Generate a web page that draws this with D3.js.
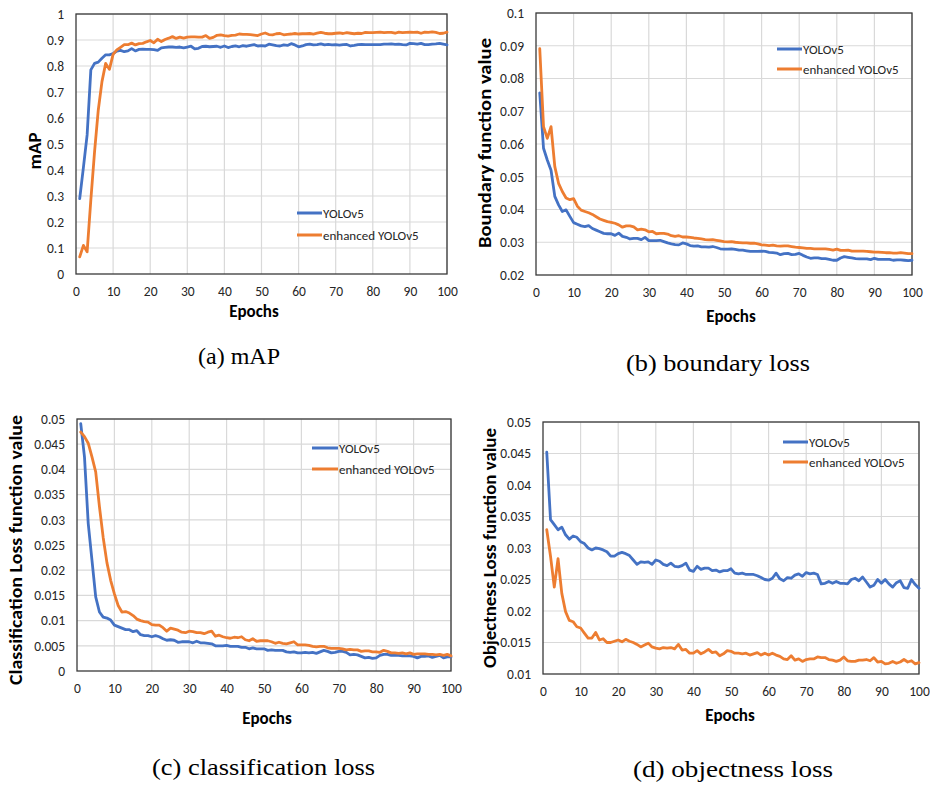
<!DOCTYPE html>
<html>
<head>
<meta charset="utf-8">
<script src="https://cdn.jsdelivr.net/npm/d3@7"></script>
<style>
  html, body { margin: 0; padding: 0; background: #ffffff; }
  svg { display: block; }
</style>
</head>
<body>
<svg id="chart" width="930" height="785"></svg>
<script>
// ---------------- DATA ----------------
const epochs = d3.range(1, 101);
const xTicks = [0, 10, 20, 30, 40, 50, 60, 70, 80, 90, 100];
const seriesNames = ["YOLOv5", "enhanced YOLOv5"];

const mapTicks = [0, 0.1, 0.2, 0.3, 0.4, 0.5, 0.6, 0.7, 0.8, 0.9, 1];
const mapTickLabels = ["0", "0.1", "0.2", "0.3", "0.4", "0.5", "0.6", "0.7", "0.8", "0.9", "1"];
const boxTicks = [0.02, 0.03, 0.04, 0.05, 0.06, 0.07, 0.08, 0.09, 0.1];
const boxTickLabels = ["0.02", "0.03", "0.04", "0.05", "0.06", "0.07", "0.08", "0.09", "0.1"];
const clsTicks = [0, 0.005, 0.01, 0.015, 0.02, 0.025, 0.03, 0.035, 0.04, 0.045, 0.05];
const clsTickLabels = ["0", "0.005", "0.01", "0.015", "0.02", "0.025", "0.03", "0.035", "0.04", "0.045", "0.05"];
const objTicks = [0.01, 0.015, 0.02, 0.025, 0.03, 0.035, 0.04, 0.045, 0.05];
const objTickLabels = ["0.01", "0.015", "0.02", "0.025", "0.03", "0.035", "0.04", "0.045", "0.05"];

const mapYolo = [0.29,0.41,0.535,0.785,0.81,0.815,0.83,0.843,0.843,0.848,
0.857,0.86,0.855,0.858,0.867,0.858,0.864,0.865,0.864,0.864,
0.863,0.86,0.87,0.872,0.873,0.873,0.872,0.873,0.87,0.873,
0.876,0.866,0.868,0.875,0.876,0.874,0.875,0.876,0.872,0.877,
0.871,0.875,0.877,0.874,0.878,0.876,0.879,0.882,0.877,0.878,
0.877,0.884,0.881,0.878,0.877,0.881,0.879,0.886,0.881,0.874,
0.877,0.882,0.884,0.881,0.882,0.885,0.881,0.883,0.881,0.882,
0.88,0.882,0.883,0.877,0.879,0.882,0.883,0.882,0.882,0.882,
0.882,0.882,0.884,0.884,0.885,0.883,0.884,0.882,0.881,0.887,
0.886,0.884,0.887,0.882,0.882,0.884,0.885,0.887,0.884,0.881];

const mapEnh = [0.066,0.11,0.085,0.285,0.47,0.63,0.74,0.81,0.787,0.845,
0.862,0.872,0.882,0.882,0.888,0.881,0.886,0.887,0.893,0.898,
0.889,0.903,0.894,0.902,0.907,0.913,0.906,0.911,0.907,0.911,
0.912,0.912,0.911,0.911,0.917,0.906,0.91,0.918,0.92,0.917,
0.915,0.918,0.919,0.923,0.922,0.922,0.921,0.919,0.917,0.923,
0.927,0.921,0.92,0.924,0.925,0.92,0.922,0.923,0.925,0.923,
0.924,0.924,0.925,0.923,0.926,0.929,0.926,0.924,0.924,0.926,
0.927,0.925,0.928,0.926,0.924,0.926,0.925,0.929,0.928,0.928,
0.929,0.93,0.928,0.929,0.929,0.926,0.93,0.928,0.929,0.93,
0.929,0.93,0.926,0.93,0.929,0.931,0.929,0.925,0.926,0.93];

const boxYolo = [0.0756,0.0587,0.0551,0.052,0.044,0.0414,0.0394,0.0399,0.0379,0.036,
0.0355,0.035,0.0348,0.0351,0.0342,0.0337,0.0332,0.0327,0.0326,0.0326,
0.0321,0.0328,0.0318,0.0315,0.031,0.0312,0.0312,0.0308,0.0315,0.0305,
0.0305,0.0305,0.0306,0.0302,0.0298,0.0295,0.0293,0.0292,0.0298,0.0295,
0.029,0.0288,0.0289,0.0286,0.0286,0.0285,0.0287,0.0284,0.028,0.0279,
0.0279,0.028,0.0278,0.0276,0.0276,0.0274,0.0272,0.0272,0.0272,0.0273,
0.0272,0.0269,0.0268,0.0267,0.0262,0.0265,0.0266,0.0262,0.0263,0.0266,
0.026,0.0255,0.0251,0.0252,0.0252,0.025,0.025,0.0248,0.0245,0.0245,
0.0252,0.0256,0.0254,0.0252,0.025,0.0249,0.0249,0.0249,0.0247,0.0251,
0.0248,0.0248,0.0248,0.0248,0.0245,0.0246,0.0246,0.0245,0.0244,0.0245];

const boxEnh = [0.0891,0.0653,0.0617,0.0653,0.0531,0.048,0.0455,0.0435,0.043,0.0433,
0.041,0.0398,0.0394,0.039,0.0385,0.0378,0.0371,0.0367,0.0363,0.0361,
0.0358,0.0353,0.0346,0.035,0.035,0.0347,0.0338,0.034,0.0338,0.0332,
0.0333,0.0326,0.0327,0.0327,0.0325,0.032,0.0318,0.032,0.0316,0.0316,
0.0315,0.0313,0.0312,0.031,0.0308,0.0307,0.0308,0.0306,0.0304,0.0302,
0.0301,0.0302,0.03,0.0299,0.0298,0.0298,0.0297,0.0297,0.0295,0.0292,
0.0291,0.029,0.0291,0.0289,0.0288,0.0289,0.0289,0.0287,0.0285,0.0284,
0.0283,0.0281,0.0281,0.028,0.028,0.028,0.028,0.0278,0.0276,0.0279,
0.0275,0.0275,0.0276,0.0273,0.0273,0.0273,0.0273,0.0272,0.0271,0.027,
0.027,0.0269,0.0268,0.0268,0.0267,0.0267,0.0268,0.0267,0.0265,0.0265];

const clsYolo = [0.0491,0.0425,0.0293,0.022,0.0147,0.0117,0.0107,0.0105,0.0101,0.0091,
0.0088,0.0085,0.0082,0.0082,0.0078,0.008,0.0072,0.007,0.007,0.0068,
0.007,0.0068,0.0064,0.0061,0.0062,0.0061,0.0057,0.0058,0.0058,0.0058,
0.0056,0.0059,0.0056,0.0056,0.0055,0.0054,0.005,0.005,0.005,0.0051,
0.0049,0.0049,0.0049,0.0047,0.0047,0.0044,0.0046,0.0044,0.0044,0.0044,
0.0041,0.0042,0.0041,0.0041,0.0041,0.0038,0.0037,0.0038,0.0036,0.0036,
0.0037,0.0036,0.0037,0.0035,0.0038,0.0041,0.0039,0.0036,0.0037,0.0039,
0.0039,0.0037,0.0032,0.0033,0.0032,0.0029,0.0026,0.0027,0.0025,0.0026,
0.0031,0.0033,0.0033,0.0031,0.0031,0.0031,0.003,0.003,0.003,0.0029,
0.0026,0.0029,0.0029,0.003,0.0027,0.0029,0.0031,0.0026,0.0028,0.0028];

const clsEnh = [0.0474,0.0465,0.0452,0.0425,0.0395,0.0326,0.0265,0.0215,0.018,0.0153,
0.013,0.0117,0.0118,0.0115,0.011,0.0103,0.01,0.0098,0.0097,0.0092,
0.0091,0.0091,0.0086,0.0079,0.0085,0.0083,0.0081,0.0077,0.0076,0.0079,
0.0078,0.0076,0.0076,0.0074,0.0077,0.0079,0.0069,0.0071,0.0068,0.0066,
0.0065,0.0067,0.0066,0.0068,0.0062,0.006,0.0064,0.0059,0.006,0.006,
0.006,0.0058,0.0055,0.0057,0.0055,0.0054,0.0056,0.0058,0.0052,0.0052,
0.0052,0.0051,0.0049,0.0048,0.0049,0.0049,0.0046,0.0045,0.0045,0.0045,
0.0044,0.0042,0.0043,0.0042,0.0042,0.0039,0.004,0.004,0.0038,0.0038,
0.0037,0.0041,0.0039,0.0036,0.0036,0.0035,0.0036,0.0034,0.0036,0.0033,
0.0034,0.0034,0.0034,0.0033,0.0033,0.0032,0.0033,0.0031,0.0033,0.003];

const objYolo = [0.0452,0.0345,0.0337,0.0329,0.0333,0.0321,0.0314,0.0319,0.0317,0.031,
0.0307,0.03,0.0297,0.03,0.0299,0.0297,0.0294,0.0287,0.0287,0.0291,
0.0293,0.0291,0.0288,0.0281,0.0274,0.0278,0.0277,0.0278,0.0274,0.0281,
0.0279,0.0274,0.0272,0.0276,0.0271,0.027,0.0272,0.0276,0.0265,0.0263,
0.0271,0.0266,0.0268,0.0268,0.0264,0.0265,0.0262,0.0264,0.0264,0.0267,
0.026,0.0259,0.026,0.0258,0.0258,0.0258,0.0256,0.0253,0.025,0.0249,
0.0252,0.026,0.0251,0.0248,0.0253,0.0252,0.0257,0.0259,0.0255,0.0261,
0.0259,0.026,0.0258,0.0243,0.0244,0.0247,0.0244,0.0247,0.0244,0.0244,
0.0243,0.025,0.0252,0.0248,0.0254,0.0246,0.0238,0.0241,0.025,0.0244,
0.025,0.0243,0.0238,0.0245,0.0248,0.0237,0.0236,0.025,0.0242,0.0236];

const objEnh = [0.0329,0.0287,0.0238,0.0283,0.0228,0.0199,0.0185,0.0183,0.0175,0.0173,
0.0165,0.0157,0.0157,0.0166,0.0154,0.0156,0.015,0.015,0.0152,0.0154,
0.0151,0.0155,0.0152,0.015,0.0147,0.0143,0.0146,0.0149,0.0143,0.0141,
0.014,0.0142,0.0141,0.0142,0.014,0.0147,0.0138,0.0139,0.0133,0.0133,
0.0137,0.0132,0.0135,0.0139,0.0134,0.0135,0.0129,0.0132,0.0137,0.0136,
0.0133,0.0133,0.0132,0.0133,0.013,0.0132,0.0134,0.013,0.0133,0.013,
0.0133,0.013,0.0128,0.0124,0.0123,0.0129,0.0122,0.0124,0.012,0.0123,
0.0124,0.0124,0.0127,0.0126,0.0126,0.0123,0.0122,0.012,0.0122,0.0127,
0.0121,0.012,0.012,0.0122,0.0122,0.0123,0.0121,0.0126,0.0119,0.012,
0.0116,0.0117,0.012,0.0117,0.0119,0.0123,0.0119,0.0121,0.0116,0.0118];

// ---------------- LAYOUT / STYLE ----------------
const colors = ["#4472C4", "#ED7D31"];
const sansFont = "Carlito, Lato, 'Open Sans', sans-serif";
const serifFont = "'Liberation Serif', 'Times New Roman', serif";

const panels = [
  { box: {l: 76, r: 447, t: 14, b: 274}, ticks: mapTicks, labels: mapTickLabels,
    data: [mapYolo, mapEnh], ytitle: "mAP", ytx: 35, yty: 151, ytLen: 37,
    xtx: 254, xty: 317, leg: {x1: 297, x2: 322, y1: 213, y2: 235},
    caption: "(a) mAP", cx: 198, cy: 364, cLen: 82 },
  { box: {l: 536, r: 912, t: 13, b: 275}, ticks: boxTicks, labels: boxTickLabels,
    data: [boxYolo, boxEnh], ytitle: "Boundary function value", ytx: 485, yty: 143, ytLen: 210,
    xtx: 731, xty: 322, leg: {x1: 777, x2: 802, y1: 49, y2: 69},
    caption: "(b) boundary loss", cx: 626, cy: 371, cLen: 184 },
  { box: {l: 77, r: 451, t: 419, b: 671}, ticks: clsTicks, labels: clsTickLabels,
    data: [clsYolo, clsEnh], ytitle: "Classification Loss function value", ytx: 16, yty: 550, ytLen: 270,
    xtx: 267, xty: 724, leg: {x1: 312, x2: 338, y1: 448, y2: 469},
    caption: "(c) classification loss", cx: 152, cy: 775, cLen: 223 },
  { box: {l: 543, r: 919, t: 422, b: 674}, ticks: objTicks, labels: objTickLabels,
    data: [objYolo, objEnh], ytitle: "Objectness Loss function value", ytx: 490, yty: 548, ytLen: 240,
    xtx: 730, xty: 721, leg: {x1: 783, x2: 808, y1: 442, y2: 462},
    caption: "(d) objectness loss", cx: 633, cy: 777, cLen: 200 }
];

const svg = d3.select("#chart");

panels.forEach(p => {
  const g = svg.append("g");
  const x = d3.scaleLinear().domain([0, 100]).range([p.box.l, p.box.r]);
  const y = d3.scaleLinear().domain([p.ticks[0], p.ticks[p.ticks.length - 1]]).range([p.box.b, p.box.t]);

  // gridlines
  g.append("g").selectAll("line").data(p.ticks.slice(1)).join("line")
    .attr("x1", p.box.l).attr("x2", p.box.r)
    .attr("y1", d => y(d)).attr("y2", d => y(d))
    .attr("stroke", "#d9d9d9").attr("stroke-width", 1.2);
  g.append("g").selectAll("line").data(xTicks.slice(1)).join("line")
    .attr("x1", d => x(d)).attr("x2", d => x(d))
    .attr("y1", p.box.t).attr("y2", p.box.b)
    .attr("stroke", "#d9d9d9").attr("stroke-width", 1.2);

  // frame
  g.append("rect")
    .attr("x", p.box.l).attr("y", p.box.t)
    .attr("width", p.box.r - p.box.l).attr("height", p.box.b - p.box.t)
    .attr("fill", "none").attr("stroke", "#3a3a3a").attr("stroke-width", 1.3);

  // axes (labels only, Excel style)
  const xAxis = d3.axisBottom(x).tickValues(xTicks).tickSize(0).tickPadding(0).tickFormat(d3.format("d"));
  const xa = g.append("g").attr("transform", `translate(0,${p.box.b})`).call(xAxis);
  xa.select(".domain").remove();
  xa.selectAll("text").attr("y", 22).attr("dy", null)
    .attr("font-family", sansFont).attr("font-size", 13.5).attr("fill", "#262626");

  const yAxis = d3.axisLeft(y).tickValues(p.ticks).tickSize(0).tickPadding(12)
    .tickFormat((d, i) => p.labels[i]);
  const ya = g.append("g").attr("transform", `translate(${p.box.l},0)`).call(yAxis);
  ya.select(".domain").remove();
  ya.selectAll("text").attr("font-family", sansFont).attr("font-size", 13.5).attr("fill", "#262626");

  // lines
  const line = d3.line().x((d, i) => x(epochs[i])).y(d => y(d));
  p.data.forEach((s, k) => {
    g.append("path").datum(s)
      .attr("d", line)
      .attr("fill", "none")
      .attr("stroke", colors[k])
      .attr("stroke-width", 2.8)
      .attr("stroke-linejoin", "round")
      .attr("stroke-linecap", "round");
  });

  // legend
  [p.leg.y1, p.leg.y2].forEach((ly, k) => {
    g.append("line").attr("x1", p.leg.x1).attr("x2", p.leg.x2)
      .attr("y1", ly).attr("y2", ly)
      .attr("stroke", colors[k]).attr("stroke-width", 3);
    g.append("text").attr("x", p.leg.x2 + 1).attr("y", ly).attr("dy", "0.35em")
      .attr("font-family", sansFont).attr("font-size", 13).attr("fill", "#262626")
      .text(seriesNames[k]);
  });

  // axis titles
  g.append("text").attr("x", p.xtx).attr("y", p.xty)
    .attr("text-anchor", "middle")
    .attr("font-family", sansFont).attr("font-weight", "bold").attr("font-size", 17).attr("fill", "#000")
    .text("Epochs");
  g.append("text")
    .attr("transform", `translate(${p.ytx},${p.yty}) rotate(-90)`)
    .attr("text-anchor", "middle").attr("dy", "0.35em")
    .attr("font-family", sansFont).attr("font-weight", "bold").attr("font-size", 17).attr("fill", "#000")
    .attr("textLength", p.ytLen).attr("lengthAdjust", "spacingAndGlyphs")
    .text(p.ytitle);

  // caption
  svg.append("text").attr("x", p.cx).attr("y", p.cy)
    .attr("font-family", serifFont).attr("font-size", 23).attr("fill", "#000")
    .attr("textLength", p.cLen).attr("lengthAdjust", "spacingAndGlyphs")
    .text(p.caption);
});
</script>
</body>
</html>
